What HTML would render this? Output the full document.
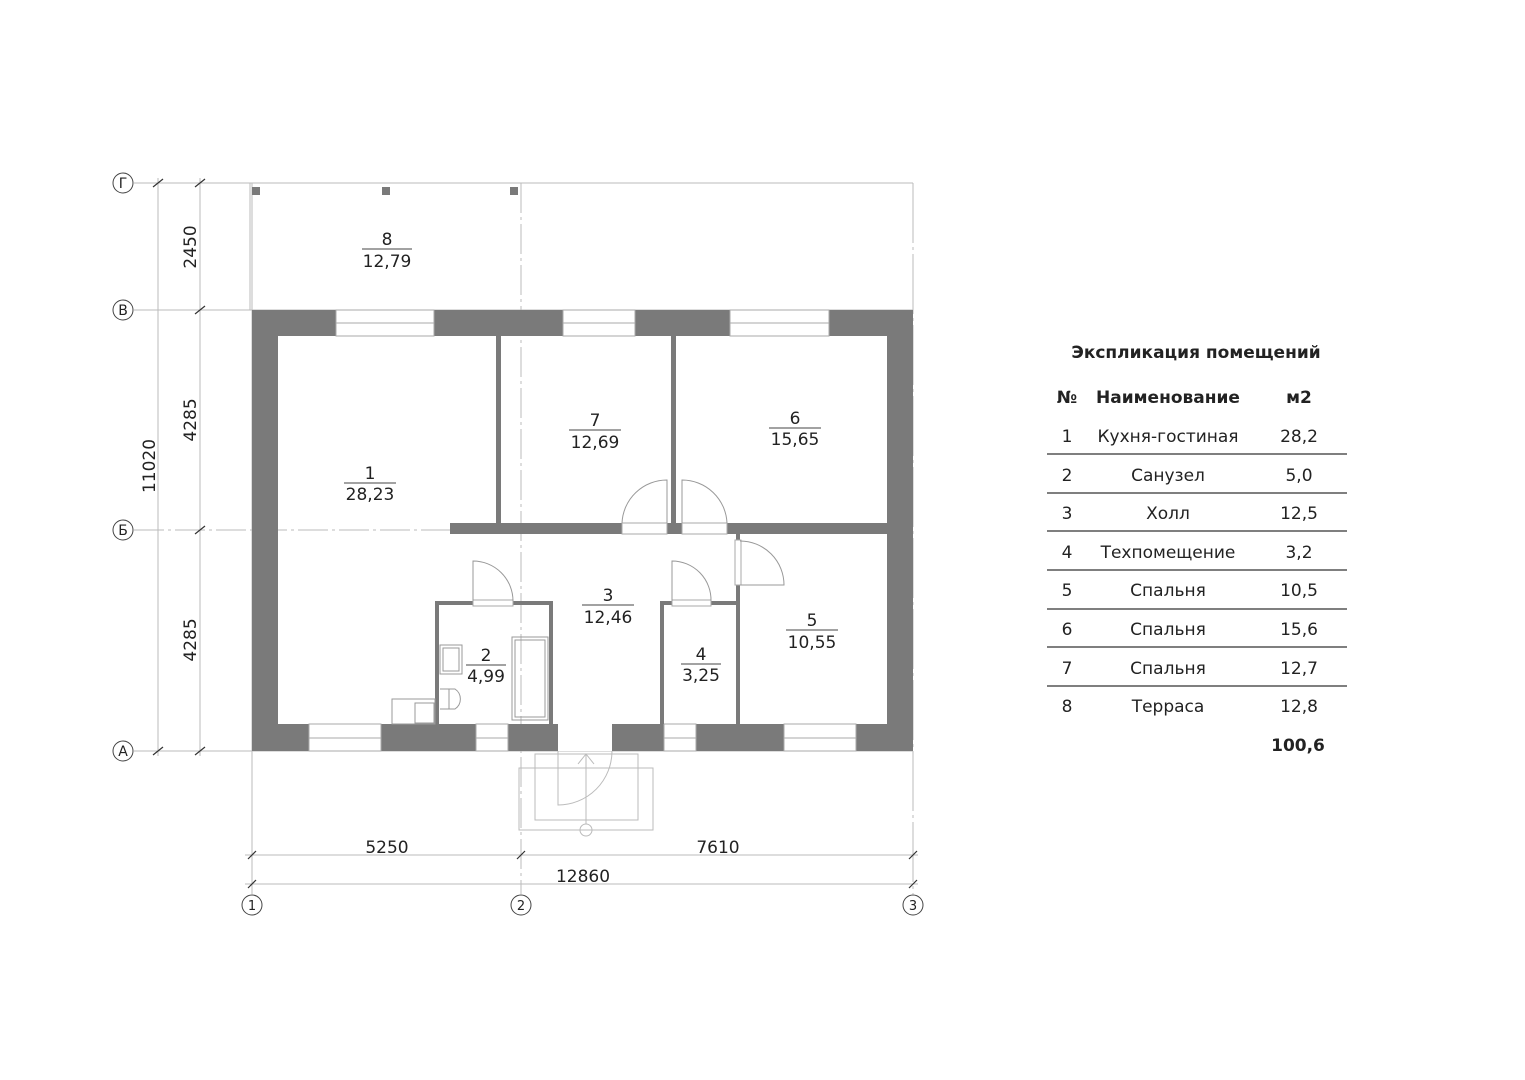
<!DOCTYPE html>
<html><head><meta charset="utf-8"><style>
html,body{margin:0;padding:0;background:#fff;}
svg{display:block;}
text{font-family:"DejaVu Sans","Liberation Sans",sans-serif;fill:#222;}
</style></head><body>
<svg width="1525" height="1080" viewBox="0 0 1525 1080" xmlns="http://www.w3.org/2000/svg">
<g stroke="#bbb" stroke-width="1" fill="none">
<!-- grid axes -->
<line x1="134" y1="183" x2="913" y2="183"/>
<line x1="134" y1="310" x2="913" y2="310"/>
<line x1="134" y1="530" x2="913" y2="530" stroke-dasharray="30,4,3,4"/>
<line x1="134" y1="751" x2="913" y2="751"/>
<line x1="252" y1="183" x2="252" y2="894"/>
<line x1="521" y1="183" x2="521" y2="894" stroke-dasharray="30,4,3,4"/>
<line x1="913" y1="183" x2="913" y2="894" stroke-dasharray="60,4,3,4"/>
<!-- terrace -->
<line x1="250" y1="183" x2="250" y2="310"/>
<!-- dims left -->
<line x1="158" y1="178" x2="158" y2="756"/>
<line x1="200" y1="178" x2="200" y2="756"/>
<!-- dims bottom -->
<line x1="245" y1="855" x2="918" y2="855"/>
<line x1="245" y1="884" x2="918" y2="884"/>
<!-- porch -->
<rect x="519" y="768" width="134" height="62"/>
<rect x="535" y="754" width="103" height="66"/>
<path d="M558 751 L558 805 A54 54 0 0 0 612 751"/>
<line x1="586" y1="824" x2="586" y2="754"/>
<polyline points="578,764 586,754 594,764"/>
<circle cx="586" cy="830" r="6"/>
</g>
<g stroke="#333" stroke-width="1.2">
<line x1="153" y1="187" x2="163" y2="179"/><line x1="195" y1="187" x2="205" y2="179"/>
<line x1="195" y1="314" x2="205" y2="306"/>
<line x1="195" y1="534" x2="205" y2="526"/>
<line x1="153" y1="755" x2="163" y2="747"/><line x1="195" y1="755" x2="205" y2="747"/>
<line x1="248" y1="859" x2="256" y2="851"/><line x1="517" y1="859" x2="525" y2="851"/><line x1="909" y1="859" x2="917" y2="851"/>
<line x1="248" y1="888" x2="256" y2="880"/><line x1="909" y1="888" x2="917" y2="880"/>
</g>
<!-- posts -->
<g fill="#7a7a7a"><rect x="252" y="187" width="8" height="8"/><rect x="382" y="187" width="8" height="8"/><rect x="510" y="187" width="8" height="8"/></g>
<!-- outer walls -->
<path fill="#7a7a7a" fill-rule="evenodd" d="M252 310 H913 V751 H252 Z M278 336 V724 H887 V336 Z"/>
<!-- windows top -->
<g fill="#fff" stroke="#aaa" stroke-width="1">
<rect x="336" y="310" width="98" height="26"/><rect x="563" y="310" width="72" height="26"/><rect x="730" y="310" width="99" height="26"/>
<rect x="309" y="724" width="72" height="27"/><rect x="476" y="724" width="32" height="27"/><rect x="664" y="724" width="32" height="27"/><rect x="784" y="724" width="72" height="27"/>
</g>
<g stroke="#aaa"><line x1="336" y1="323" x2="434" y2="323"/><line x1="563" y1="323" x2="635" y2="323"/><line x1="730" y1="323" x2="829" y2="323"/>
<line x1="309" y1="738" x2="381" y2="738"/><line x1="476" y1="738" x2="508" y2="738"/><line x1="664" y1="738" x2="696" y2="738"/><line x1="784" y1="738" x2="856" y2="738"/></g>
<rect x="558" y="724" width="54" height="27" fill="#fff"/>
<!-- interior walls -->
<g fill="#7a7a7a">
<rect x="496" y="336" width="5" height="190"/>
<rect x="671" y="336" width="5" height="190"/>
<rect x="450" y="523" width="437" height="11"/>
<rect x="736" y="534" width="4" height="190"/>
<rect x="435" y="601" width="118" height="4"/><rect x="435" y="601" width="4" height="123"/><rect x="549" y="601" width="4" height="123"/>
<rect x="660" y="601" width="80" height="4"/><rect x="660" y="601" width="4" height="123"/>
</g>
<g fill="#fff" stroke="#aaa" stroke-width="1">
<rect x="622" y="523" width="45" height="11"/><rect x="682" y="523" width="45" height="11"/>
<rect x="473" y="600" width="40" height="6"/><rect x="672" y="600" width="39" height="6"/>
<rect x="735" y="540" width="6" height="45"/>
</g>
<g fill="none" stroke="#999" stroke-width="1">
<path d="M667 523 V480 A45 45 0 0 0 622 523"/>
<path d="M682 523 V480 A45 45 0 0 1 727 523"/>
<path d="M473 601 V561 A40 40 0 0 1 513 601"/>
<path d="M672 601 V561 A39 39 0 0 1 711 601"/>
<path d="M740 585 H784 A44 44 0 0 0 740 541"/>
<rect x="512" y="637" width="36" height="83"/><rect x="515" y="640" width="30" height="77"/>
<rect x="440" y="645" width="22" height="29"/><rect x="443" y="648" width="16" height="23"/>
<path d="M440 689 H455 A12 12 0 0 1 455 709 H440"/><line x1="449" y1="689" x2="449" y2="709"/>
<rect x="392" y="699" width="43" height="25"/><rect x="415" y="703" width="19" height="20"/>
</g>
<!-- circles -->
<g fill="#fff" stroke="#444" stroke-width="1">
<circle cx="123" cy="183" r="10"/><circle cx="123" cy="310" r="10"/><circle cx="123" cy="530" r="10"/><circle cx="123" cy="751" r="10"/>
<circle cx="252" cy="905" r="10"/><circle cx="521" cy="905" r="10"/><circle cx="913" cy="905" r="10"/>
</g>
<g font-size="14" text-anchor="middle">
<text x="123" y="188">Г</text><text x="123" y="315">В</text><text x="123" y="535">Б</text><text x="123" y="756">А</text>
<text x="252" y="910" font-size="13">1</text><text x="521" y="910" font-size="13">2</text><text x="913" y="910" font-size="13">3</text>
</g>
<g font-size="17" text-anchor="middle">
<text transform="translate(196,247) rotate(-90)">2450</text>
<text transform="translate(196,420) rotate(-90)">4285</text>
<text transform="translate(196,640) rotate(-90)">4285</text>
<text transform="translate(155,466) rotate(-90)">11020</text>
<text x="387" y="853">5250</text><text x="718" y="853">7610</text><text x="583" y="882">12860</text>
</g>
<!-- room labels -->
<g font-size="17" text-anchor="middle">
<text x="387" y="245">8</text><text x="387" y="267">12,79</text>
<text x="370" y="479">1</text><text x="370" y="500">28,23</text>
<text x="595" y="426">7</text><text x="595" y="448">12,69</text>
<text x="795" y="424">6</text><text x="795" y="445">15,65</text>
<text x="608" y="601">3</text><text x="608" y="623">12,46</text>
<text x="486" y="661">2</text><text x="486" y="682">4,99</text>
<text x="701" y="660">4</text><text x="701" y="681">3,25</text>
<text x="812" y="626">5</text><text x="812" y="648">10,55</text>
</g>
<g stroke="#444" stroke-width="1">
<line x1="362" y1="249" x2="412" y2="249"/><line x1="344" y1="483" x2="396" y2="483"/>
<line x1="569" y1="430" x2="621" y2="430"/><line x1="769" y1="428" x2="821" y2="428"/>
<line x1="582" y1="605" x2="634" y2="605"/><line x1="466" y1="665" x2="506" y2="665"/>
<line x1="681" y1="664" x2="721" y2="664"/><line x1="786" y1="630" x2="838" y2="630"/>
</g>
<!-- table -->
<text x="1196" y="358" font-size="17" font-weight="bold" text-anchor="middle">Экспликация помещений</text>
<g font-size="17" font-weight="bold" text-anchor="middle">
<text x="1067" y="403">№</text><text x="1168" y="403">Наименование</text><text x="1299" y="403">м2</text>
<text x="1298" y="751">100,6</text>
</g>
<g font-size="17" text-anchor="middle">
<text x="1067" y="442">1</text><text x="1168" y="442">Кухня-гостиная</text><text x="1299" y="442">28,2</text>
<text x="1067" y="481">2</text><text x="1168" y="481">Санузел</text><text x="1299" y="481">5,0</text>
<text x="1067" y="519">3</text><text x="1168" y="519">Холл</text><text x="1299" y="519">12,5</text>
<text x="1067" y="558">4</text><text x="1168" y="558">Техпомещение</text><text x="1299" y="558">3,2</text>
<text x="1067" y="596">5</text><text x="1168" y="596">Спальня</text><text x="1299" y="596">10,5</text>
<text x="1067" y="635">6</text><text x="1168" y="635">Спальня</text><text x="1299" y="635">15,6</text>
<text x="1067" y="674">7</text><text x="1168" y="674">Спальня</text><text x="1299" y="674">12,7</text>
<text x="1067" y="712">8</text><text x="1168" y="712">Терраса</text><text x="1299" y="712">12,8</text>
</g>
<g stroke="#333" stroke-width="1.3">
<line x1="1047" y1="454" x2="1347" y2="454"/><line x1="1047" y1="493" x2="1347" y2="493"/>
<line x1="1047" y1="531" x2="1347" y2="531"/><line x1="1047" y1="570" x2="1347" y2="570"/>
<line x1="1047" y1="609" x2="1347" y2="609"/><line x1="1047" y1="647" x2="1347" y2="647"/>
<line x1="1047" y1="686" x2="1347" y2="686"/>
</g>
</svg>
</body></html>
